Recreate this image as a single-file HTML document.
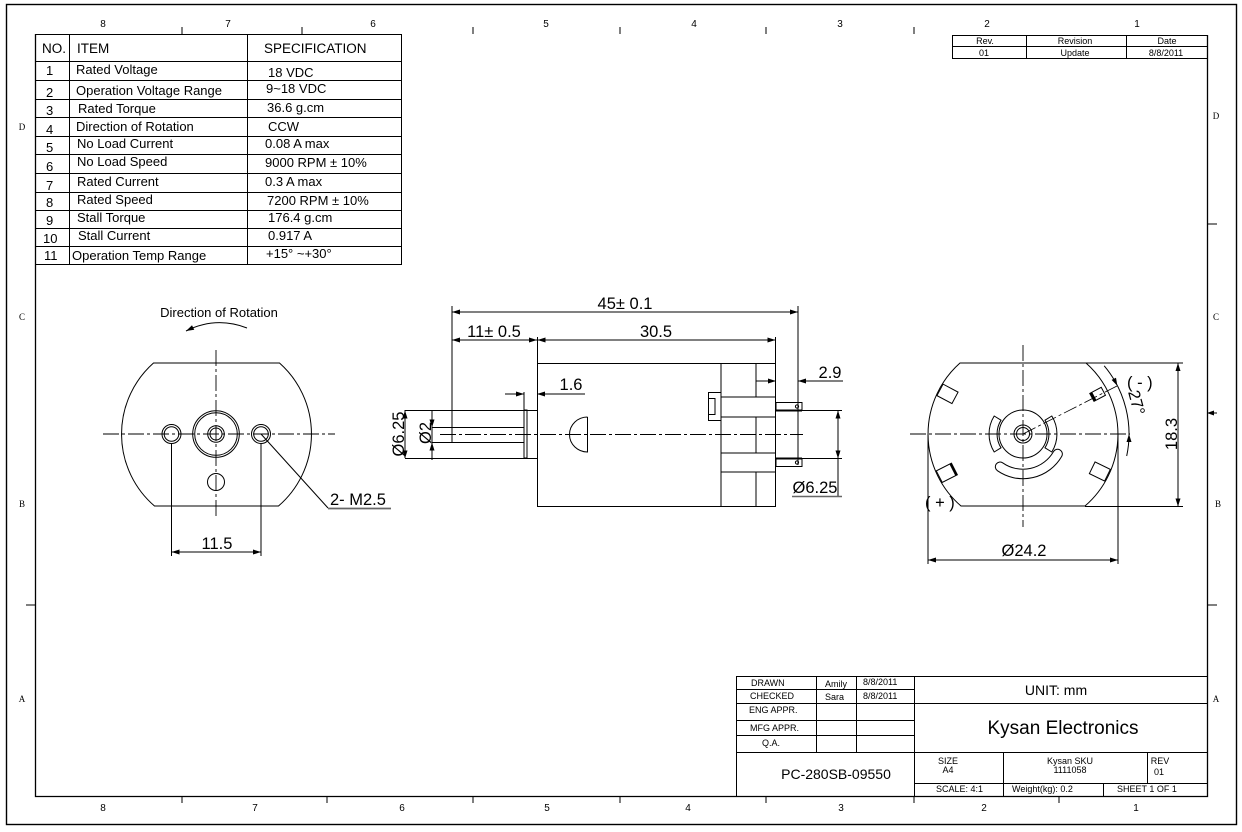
<!DOCTYPE html>
<html><head><meta charset="utf-8"><style>
html,body{margin:0;padding:0;background:#fff;}
svg{display:block;}
text{font-family:"Liberation Sans",Arial,sans-serif;fill:#000;}
.s{font-family:"Liberation Serif",serif;}
</style></head><body>
<svg width="1242" height="832" viewBox="0 0 1242 832" xmlns="http://www.w3.org/2000/svg">
<rect width="1242" height="832" fill="#fff"/>
<g stroke="#000" fill="none" stroke-width="1">
<!-- frames -->
<rect x="6.5" y="4.5" width="1230" height="820" stroke-width="1.4"/>
<path d="M35.5 34 V796.5 H1207.5 V35" stroke-width="1.3"/>
<path d="M182 27V34 M302 27V34 M473 27V34 M620 27V34 M766 27V34 M914 27V34"/>
<path d="M182 796V803 M327 796V803 M473 796V803 M620 796V803 M766 796V803 M914 796V803 M1059 796V803"/>
<path d="M26 605H35.5 M1207 224H1217 M1207 413H1217 M1207 605H1217"/>

<!-- spec table -->
<rect x="35.5" y="34.5" width="366" height="230"/>
<path d="M69.5 34.5V264.5 M247.5 34.5V264.5"/>
<path d="M35.5 61.5H401.5 M35.5 80.5H401.5 M35.5 99.5H401.5 M35.5 117.5H401.5 M35.5 136.5H401.5 M35.5 154.5H401.5 M35.5 173.5H401.5 M35.5 192.5H401.5 M35.5 210.5H401.5 M35.5 228.5H401.5 M35.5 246.5H401.5"/>

<!-- revision table -->
<rect x="952.5" y="35.5" width="255" height="23"/>
<path d="M952.5 46.5H1207.5 M1026.5 35.5V58.5 M1126.5 35.5V58.5"/>

<!-- title block -->
<rect x="736.5" y="676.5" width="471" height="120"/>
<path d="M914.5 676.5V796.5 M816.5 676.5V752.5 M856.5 676.5V752.5"/>
<path d="M736.5 689.5H914.5 M736.5 703.5H1207.5 M736.5 720.5H914.5 M736.5 735.5H914.5 M736.5 752.5H1207.5"/>
<path d="M914.5 783.5H1207.5 M1003.5 752.5V796.5 M1147.5 752.5V783.5 M1103.5 783.5V796.5"/>

<!-- LEFT VIEW -->
<path d="M153.5 363 H279.5 A95 95 0 0 1 278.5 506 H154.5 A95 95 0 0 1 153.5 363 Z"/>
<circle cx="216" cy="434" r="23.3"/>
<circle cx="216" cy="434" r="21.3"/>
<circle cx="216" cy="434" r="8.3"/>
<circle cx="216" cy="434" r="6"/>
<circle cx="171.5" cy="434" r="9.5"/>
<circle cx="171.5" cy="434" r="7.3"/>
<circle cx="261" cy="434" r="9.5"/>
<circle cx="261" cy="434" r="7.3"/>
<circle cx="216" cy="482" r="8.5"/>
<path d="M103 434H335 M216 350V518" stroke-dasharray="16 3 3 3" stroke-width="0.9"/>
<path d="M171.5 444V556 M261 444V556 M171.5 552H261"/>
<path d="M261 434 L328 508"/>
<path d="M328 508.5H391" stroke="#666" stroke-width="1.8"/>
<path d="M247 328 Q216 316 186 331"/>

<!-- MIDDLE VIEW -->
<rect x="537.5" y="363.5" width="238" height="143"/>
<path d="M721 363.5V506.5 M756 363.5V397 M756 417V453 M756 472V506.5"/>
<path d="M721 397H776 M721 417H776 M721 453H776 M721 472H776"/>
<rect x="708.5" y="392.5" width="12.5" height="28"/>
<rect x="708.5" y="398.5" width="6.5" height="16"/>
<rect x="776" y="402.5" width="26" height="8"/>
<rect x="776" y="458.5" width="26" height="8"/>
<path d="M776 410.5H802 M776 458.5H802" stroke-width="2"/>
<circle cx="797" cy="406.5" r="1.6"/>
<circle cx="797" cy="462.5" r="1.6"/>
<!-- shaft -->
<path d="M432 427.5H524 M432 442.5H524"/>
<rect x="524" y="410" width="3" height="48"/>
<path d="M405 410.5H537 M405 458.5H537"/>
<path d="M587.5 417 V452 A18 17.5 0 0 1 587.5 417"/>
<path d="M440 434.5H803" stroke-dasharray="16 3 3 3" stroke-width="0.9"/>
<!-- dims -->
<path d="M452 306V442 M798 306V465 M452 312H798"/>
<path d="M452 340H775.5 M537.5 337V363 M775.5 337V363"/>
<path d="M524 392V410 M505 394H524 M537 394H585"/>
<path d="M756 381H776 M798 381H843"/>
<path d="M802 410.5H842 M802 458.5H842 M838 410V496"/>
<path d="M792 496.5H842" stroke="#666" stroke-width="1.6"/>
<path d="M405 410V458 M432 410V460"/>

<!-- RIGHT VIEW -->
<path d="M960 363 H1086 A95 95 0 0 1 1085 506 H961 A95 95 0 0 1 960 363 Z"/>
<circle cx="1023" cy="434" r="24"/>
<circle cx="1023" cy="434" r="9"/>
<circle cx="1023" cy="434" r="6.5"/>
<path d="M1051.8,416 A34 34 0 0 1 1051.8,452 L1045,447.8 A26 26 0 0 0 1045,420.2 Z"/>
<path d="M994.2,416 A34 34 0 0 0 994.2,452 L1001,447.8 A26 26 0 0 1 1001,420.2 Z"/>
<path d="M1057.6,454 A40 40 0 0 1 1000.1,466.8" stroke-width="10.5" stroke-linecap="round"/>
<path d="M1057.6,454 A40 40 0 0 1 1000.1,466.8" stroke="#fff" stroke-width="8.5" stroke-linecap="round"/>
<g transform="translate(1023,434) rotate(-152)"><rect x="77" y="-6.5" width="17" height="13"/></g>
<g transform="translate(1023,434) rotate(153)"><rect x="77" y="-6.5" width="17" height="13"/><path d="M78 -6.5V6.5" stroke-width="2.5"/></g>
<g transform="translate(1023,434) rotate(26)"><rect x="77" y="-6.5" width="17" height="13"/></g>
<g transform="translate(1023,434) rotate(-28)"><rect x="78" y="-4.5" width="13" height="9"/><path d="M79.5 -4.5V4.5" stroke-width="2.5"/></g>
<path d="M910 434H1130 M1023 345V527" stroke-dasharray="16 3 3 3" stroke-width="0.9"/>
<path d="M1023 434 L1117 386" stroke-dasharray="14 3 3 3" stroke-width="0.8"/>
<path d="M1104.2,365.8 A106 106 0 0 1 1126.7,456"/>
<path d="M1086 363H1183 M1085 506.5H1183 M1178 363V506"/>
<path d="M928 434V564 M1118 434V564 M928 560H1118"/>
</g>

<!-- arrowheads -->
<g fill="#000">
<polygon points="171.5,552 179.5,549.5 179.5,554.5"/><polygon points="261,552 253,549.5 253,554.5"/>
<polygon points="452,312 460,309.5 460,314.5"/><polygon points="798,312 790,309.5 790,314.5"/>
<polygon points="452,340 460,337.5 460,342.5"/><polygon points="537,340 529,337.5 529,342.5"/>
<polygon points="537.5,340 545.5,337.5 545.5,342.5"/><polygon points="775.5,340 767.5,337.5 767.5,342.5"/>
<polygon points="524,394 516,391.5 516,396.5"/><polygon points="537,394 545,391.5 545,396.5"/>
<polygon points="776,381 768,378.5 768,383.5"/><polygon points="798,381 806,378.5 806,383.5"/>
<polygon points="405,410.5 402.5,418.5 407.5,418.5"/><polygon points="405,458.5 402.5,450.5 407.5,450.5"/>
<polygon points="432,427.5 429.5,419.5 434.5,419.5"/><polygon points="432,442.5 429.5,450.5 434.5,450.5"/>
<polygon points="838,410.5 835.5,418.5 840.5,418.5"/><polygon points="838,458.5 835.5,450.5 840.5,450.5"/>
<polygon points="1178,363 1175.5,371 1180.5,371"/><polygon points="1178,506.5 1175.5,498.5 1180.5,498.5"/>
<polygon points="928,560 936,557.5 936,562.5"/><polygon points="1118,560 1110,557.5 1110,562.5"/>
<polygon points="186,331 192,325.2 194.3,329.7"/>
<polygon points="1117.4,385.9 1111.6,379.9 1116,377.7"/><polygon points="1129,434 1126.5,442 1131.5,442"/>
<polygon points="1207,413 1214,410.5 1214,415.5"/>
</g>

<!-- border labels -->
<g font-size="10" text-anchor="middle">
<text x="103" y="27">8</text><text x="228" y="27">7</text><text x="373" y="27">6</text><text x="546" y="27">5</text><text x="694" y="27">4</text><text x="840" y="27">3</text><text x="987" y="27">2</text><text x="1137" y="27">1</text>
<text x="103" y="811">8</text><text x="255" y="811">7</text><text x="402" y="811">6</text><text x="547" y="811">5</text><text x="688" y="811">4</text><text x="841" y="811">3</text><text x="984" y="811">2</text><text x="1136" y="811">1</text>
</g>
<g font-size="9" text-anchor="middle" class="s">
<text class="s" x="22" y="130">D</text><text class="s" x="22" y="320">C</text><text class="s" x="22" y="507">B</text><text class="s" x="22" y="702">A</text>
<text class="s" x="1216" y="119">D</text><text class="s" x="1216" y="320">C</text><text class="s" x="1218" y="507">B</text><text class="s" x="1216" y="702">A</text>
</g>

<!-- spec table text -->
<g font-size="13.5">
<text x="42" y="53">NO.</text><text x="77" y="53">ITEM</text><text x="264" y="53">SPECIFICATION</text>
</g>
<g font-size="13">
<text x="46" y="75">1</text><text x="76" y="74">Rated Voltage</text><text x="268" y="77">18 VDC</text>
<text x="46" y="97">2</text><text x="76" y="95">Operation Voltage Range</text><text x="266" y="93">9~18 VDC</text>
<text x="46" y="115">3</text><text x="78" y="113">Rated Torque</text><text x="267" y="112">36.6 g.cm</text>
<text x="46" y="134">4</text><text x="76" y="131">Direction of Rotation</text><text x="268" y="131">CCW</text>
<text x="46" y="152">5</text><text x="77" y="148">No Load Current</text><text x="265" y="148">0.08 A max</text>
<text x="46" y="171">6</text><text x="77" y="166">No Load Speed</text><text x="265" y="167">9000 RPM ± 10%</text>
<text x="46" y="190">7</text><text x="77" y="186">Rated Current</text><text x="265" y="186">0.3 A max</text>
<text x="46" y="207">8</text><text x="77" y="204">Rated Speed</text><text x="267" y="205">7200 RPM ± 10%</text>
<text x="46" y="225">9</text><text x="77" y="222">Stall Torque</text><text x="268" y="222">176.4 g.cm</text>
<text x="43" y="243">10</text><text x="78" y="240">Stall Current</text><text x="268" y="240">0.917 A</text>
<text x="44" y="260">11</text><text x="72" y="260">Operation Temp Range</text><text x="266" y="258">+15° ~+30°</text>
</g>

<!-- revision table text -->
<g font-size="9" text-anchor="middle">
<text x="985" y="44">Rev.</text><text x="1075" y="44">Revision</text><text x="1167" y="44">Date</text>
<text x="984" y="56">01</text><text x="1075" y="56">Update</text><text x="1166" y="56">8/8/2011</text>
</g>

<!-- title block text -->
<g font-size="9">
<text x="751" y="686">DRAWN</text><text x="750" y="699">CHECKED</text><text x="749" y="713">ENG APPR.</text><text x="750" y="731">MFG APPR.</text><text x="762" y="746">Q.A.</text>
<text x="825" y="687">Amily</text><text x="825" y="700">Sara</text><text x="863" y="685">8/8/2011</text><text x="863" y="699">8/8/2011</text>
<text x="948" y="764" text-anchor="middle">SIZE</text><text x="948" y="773" text-anchor="middle">A4</text>
<text x="1070" y="764" text-anchor="middle">Kysan SKU</text><text x="1070" y="773" text-anchor="middle">1111058</text>
<text x="1160" y="764" text-anchor="middle">REV</text><text x="1159" y="775" text-anchor="middle">01</text>
<text x="936" y="792">SCALE: 4:1</text><text x="1012" y="792">Weight(kg): 0.2</text><text x="1117" y="792">SHEET 1 OF 1</text>
</g>
<text x="1056" y="695" font-size="14" text-anchor="middle">UNIT: mm</text>
<text x="1063" y="734" font-size="19" text-anchor="middle">Kysan Electronics</text>
<text x="836" y="779" font-size="14" text-anchor="middle">PC-280SB-09550</text>

<!-- drawing labels -->
<text x="219" y="317" font-size="13" text-anchor="middle">Direction of Rotation</text>
<g font-size="16.5">
<text x="217" y="549" text-anchor="middle">11.5</text>
<text x="330" y="505">2- M2.5</text>
<text x="625" y="309" text-anchor="middle">45± 0.1</text>
<text x="494" y="337" text-anchor="middle">11± 0.5</text>
<text x="656" y="337" text-anchor="middle">30.5</text>
<text x="571" y="390" text-anchor="middle">1.6</text>
<text x="830" y="378" text-anchor="middle">2.9</text>
<text x="815" y="493" text-anchor="middle">Ø6.25</text>
<text transform="translate(404,434) rotate(-90)" text-anchor="middle">Ø6.25</text>
<text transform="translate(431,433) rotate(-90)" text-anchor="middle">Ø2</text>
<text transform="translate(1177,434) rotate(-90)" text-anchor="middle">18.3</text>
<text x="1024" y="556" text-anchor="middle">Ø24.2</text>
<text transform="translate(1128,392) rotate(75)">27°</text>
<text x="1127" y="388">( - )</text>
<text x="925" y="508">( + )</text>
</g>
</svg>
</body></html>
